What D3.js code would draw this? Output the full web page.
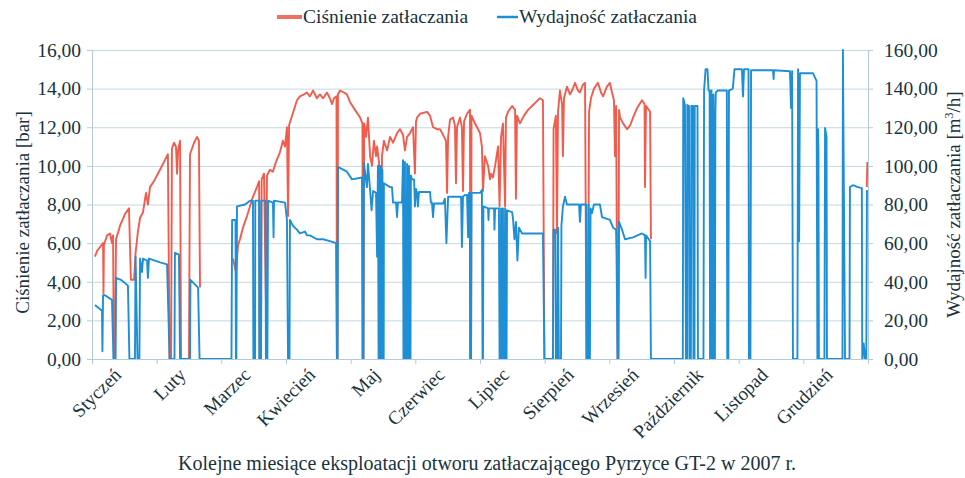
<!DOCTYPE html>
<html>
<head>
<meta charset="utf-8">
<script src="https://cdn.jsdelivr.net/npm/d3@7"></script>
<style>
	body { margin: 0; background: #fff; }
	svg text { font-family: "Liberation Serif", "Times New Roman", serif !important; fill: #183340; }
	.grid line { stroke: #c3d8e2; stroke-width: 1; }
	.axis path, .axis line { stroke: #b3cbd6; }
</style>
</head>
<body>
<script>
// kategorie (miesiące) i podziałki osi
const months = ["Styczeń", "Luty", "Marzec", "Kwiecień", "Maj", "Czerwiec", "Lipiec",
                "Sierpień", "Wrzesień", "Październik", "Listopad", "Grudzień"];
const pressureTicks = [0, 2, 4, 6, 8, 10, 12, 14, 16];
const flowTicks = [0, 20, 40, 60, 80, 100, 120, 140, 160];

// ciśnienie zatłaczania [bar], [dzień roku, wartość]; null = brak danych
const pressure = [
	[1.4,5.3],[2.4,5.6],[3.8,5.8],[5.2,6.0],[5.4,3.4],[5.6,5.9],[7.1,6.4],[8.5,6.5],[9.4,6.0],[9.9,6.4],
	[10.3,0],[10.8,0],[11.3,6.2],[13.2,6.9],[15.5,7.5],[17.4,7.8],[18.3,4.1],[19.8,4.1],[20.5,5.5],[21.6,6.6],
	[22.6,7.3],[24.0,7.6],[25.4,8.6],[26.3,8.0],[27.3,8.9],[29.6,9.3],[32.0,9.8],[34.3,10.3],[35.7,10.6],[36.5,0],
	[37.2,0],[37.6,10.9],[38.6,11.2],[39.5,11.0],[40.0,9.6],[40.5,10.8],[41.4,11.3],[41.9,0],[45.6,0],[46.1,10.6],
	[48.0,11.2],[49.4,11.5],[50.3,11.3],[50.8,3.7],[51.0,null],
	[66.3,5.2],[67.7,4.5],[68.7,5.9],[69.6,6.2],[71.0,6.8],[72.9,7.4],[74.3,7.9],[75.7,8.4],[77.6,8.9],[78.6,9.2],
	[78.8,0],[79.5,0],[79.8,9.3],[80.9,9.6],[81.8,3.0],[82.3,9.5],[83.7,9.8],[85.1,9.7],[86.5,10.2],[88.4,10.7],
	[89.8,11.3],[90.8,11.0],[91.7,12.0],[92.2,7.4],[92.7,12.1],[94.1,12.6],[95.0,12.9],[96.4,13.4],[97.8,13.6],[99.7,13.7],
	[101.1,13.8],[102.5,13.6],[104.0,13.9],[105.8,13.5],[107.2,13.7],[108.7,13.5],[110.5,13.8],[111.9,13.5],[112.9,13.2],[113.8,13.5],
	[115.0,13.6],[115.2,0],[115.5,0],[115.7,13.7],[116.7,13.9],[118.5,13.8],[119.9,13.7],[121.4,13.3],[123.7,12.9],[126.1,12.5],
	[127.2,12.2],[127.5,0],[127.7,0],[128.0,12.2],[128.9,11.5],[129.8,12.5],[130.8,10.5],[131.7,10.0],[132.6,11.3],[133.6,10.5],
	[134.1,11.0],[135.0,10.2],[135.2,0],[135.9,0],[136.4,10.5],[137.3,11.3],[138.8,10.8],[140.2,11.5],[141.6,11.2],[143.5,11.7],
	[144.9,11.9],[146.3,11.6],[147.2,10.8],[148.2,11.5],[149.6,11.7],[151.0,12.0],[151.9,9.6],[152.4,12.3],[152.9,12.5],[154.3,12.7],
	[157.6,12.8],[159.0,12.6],[160.4,12.0],[162.3,11.9],[163.7,11.9],[165.6,11.5],[166.5,11.3],[167.0,8.6],[167.5,11.5],[168.4,12.4],
	[169.8,12.5],[170.7,12.1],[171.2,9.1],[171.7,12.0],[173.1,12.5],[174.0,12.0],[174.5,8.7],[175.0,12.3],[176.4,12.7],[177.8,12.9],
	[177.9,0],[178.3,0],[178.5,12.6],[179.7,12.3],[181.1,12.0],[182.5,11.7],[183.4,11.0],[183.9,8.7],[184.8,10.5],[186.3,10.0],
	[187.2,9.3],[187.7,9.6],[188.6,9.4],[189.6,10.0],[191.0,11.0],[191.7,7.9],[192.4,11.5],[193.3,12.2],[194.3,7.9],[194.7,12.5],
	[195.7,12.8],[197.6,13.1],[199.0,12.9],[199.4,8.3],[199.9,12.6],[201.3,12.2],[203.2,12.6],[205.1,12.9],[207.0,13.1],[208.8,13.3],
	[210.7,13.5],[212.1,13.4],[212.8,0],[216.8,0],[217.1,11.9],[218.2,12.6],[218.7,6.5],[219.2,12.8],[220.1,13.9],[221.1,13.2],
	[221.5,10.5],[222.0,13.5],[223.4,14.1],[224.8,13.7],[225.8,13.9],[227.2,14.3],[228.6,13.9],[229.5,13.8],[230.9,14.2],[231.9,14.3],
	[232.6,0],[233.3,0],[233.8,12.8],[234.7,13.5],[236.1,14.0],[238.0,14.3],[239.4,13.8],[240.4,13.6],[242.2,14.1],[243.6,14.3],
	[244.6,13.8],[245.5,13.4],[246.0,10.5],[246.5,13.1],[247.2,0],[247.6,0],[247.9,12.9],[248.4,12.5],[249.8,12.2],[251.7,11.9],
	[253.1,12.1],[254.5,12.5],[256.4,13.0],[258.7,13.4],[259.9,13.2],[260.1,8.9],[260.6,13.1],[262.5,12.8],[262.9,6.2],[263.0,null],
	[364.4,8.9],[364.7,10.2]
];

// wydajność zatłaczania [m3/h], [dzień roku, wartość]
const flow = [
	[1.4,28],[4.7,25],[4.9,4],[5.2,33],[6.1,33],[9.4,30.6],[10.1,0],[11.1,0],[11.3,42],[13.6,41],
	[16.9,38],[17.6,0],[20.2,0],[20.5,53],[21.4,0],[22.3,0],[22.6,52],[23.5,45],[24.0,52],[25.9,51],
	[26.3,42],[26.8,52],[32.0,50],[35.3,49],[36.5,0],[38.8,0],[39.0,55],[40.9,54],[41.4,0],[46.1,0],
	[46.3,41],[49.9,37],[50.6,0],[65.6,0],[65.9,72],[67.5,72],[67.7,0],[67.9,0],[68.2,79],[72.0,80],
	[74.3,82],[75.7,82],[75.9,0],[76.7,0],[76.8,82],[78.6,82],[78.7,0],[79.5,0],[79.6,82],[81.6,82],
	[81.8,0],[82.5,0],[82.8,82],[85.1,81],[85.4,63],[85.6,82],[90.8,81],[91.7,72],[92.2,0],[92.9,0],
	[93.1,72],[94.5,69],[96.4,67],[97.8,65],[100.2,66],[101.1,64],[102.5,64],[105.8,62],[108.7,62],[111.9,61],
	[114.8,60],[115.2,0],[115.5,0],[115.7,99.5],[119.9,97],[122.3,93],[127.0,94],[127.2,0],[127.7,0],[127.9,101.5],
	[129.3,89],[129.8,101],[130.8,87.5],[131.5,77],[132.2,87],[133.6,86],[134.1,53],[134.5,100],[134.8,0],[135.1,0],
	[135.2,100],[135.5,0],[135.8,0],[135.9,100],[136.1,0],[136.5,0],[136.6,98],[136.9,0],[137.2,0],[137.3,91],
	[140.2,89],[141.1,89],[141.6,81],[143.0,81],[143.5,73.5],[143.9,81],[145.8,81],[146.3,103],[146.5,0],[147.0,0],
	[147.2,102],[147.4,0],[147.9,0],[148.2,101],[148.4,0],[148.9,0],[149.1,100],[149.3,0],[149.8,0],[150.0,95],
	[150.5,93],[151.5,93],[151.9,79],[152.4,88],[152.9,86],[153.3,79],[153.8,86.5],[159.0,86.5],[159.4,81],[159.9,81],
	[160.4,73.5],[160.9,80.5],[165.1,80.5],[166.0,83],[166.7,60],[167.5,84],[173.6,84],[174.0,58],[174.5,84],[175.4,85],
	[176.4,85],[176.9,63],[177.3,86],[177.7,86],[177.9,0],[178.3,0],[178.5,86],[182.5,86],[183.4,87.5],[183.7,0],
	[183.9,0],[184.1,79],[186.3,78],[186.5,72],[186.7,78],[189.1,78],[189.3,67],[189.6,78],[191.4,78],[191.7,0],
	[192.1,0],[192.4,78],[192.6,0],[193.1,0],[193.3,78],[193.5,0],[194.0,0],[194.3,78],[194.5,0],[195.0,0],
	[195.2,77],[197.6,76],[198.0,73],[198.7,62],[199.4,71],[200.1,51],[200.8,68],[202.3,65],[212.1,65],[212.8,0],
	[216.8,0],[217.1,67],[218.0,67],[218.2,0],[218.9,0],[219.2,68],[219.6,0],[220.6,0],[220.8,69],[221.5,79],
	[222.5,84],[223.4,80],[229.1,80],[229.5,71],[230.0,80],[232.4,80],[232.6,0],[233.3,0],[233.5,80],[233.7,0],
	[234.2,0],[234.5,78],[235.2,75.6],[236.1,80],[238.9,80],[239.9,73.5],[243.6,72],[245.1,68],[246.5,67],[246.7,56.5],
	[247.2,0],[247.6,0],[247.9,71],[249.3,67],[250.7,62],[254.5,63],[258.7,65],[260.1,64],[260.4,42],[260.6,64],
	[262.5,61],[262.9,0],[277.9,0],[278.1,135],[278.9,131.5],[279.4,0],[279.9,0],[280.0,131.5],[280.8,131],[281.0,0],
	[281.7,0],[281.9,131],[282.7,131],[282.9,0],[283.4,0],[283.5,131],[284.8,131],[285.0,0],[287.6,0],[287.9,139],
	[288.6,150],[289.5,150],[290.0,139],[290.5,139],[290.7,0],[291.2,0],[291.4,139],[291.6,0],[292.1,0],[292.3,137],
	[292.6,0],[293.0,0],[293.2,127],[293.4,138],[294.4,139],[298.6,139],[298.8,0],[299.3,0],[299.6,139],[301.4,140],
	[302.2,150],[305.7,150],[305.9,144],[306.2,136],[306.7,150],[308.8,150],[309.0,0],[309.7,0],[310.0,149.5],[320.3,149.5],
	[320.6,145],[320.8,149.5],[328.3,149],[328.8,130],[329.3,149],[329.7,0],[331.8,0],[332.1,150],[332.6,61],[333.0,148],
	[339.1,148],[340.8,144],[341.2,0],[341.5,119],[341.7,106],[341.9,0],[344.5,0],[344.8,119.6],[345.5,115],[345.7,0],
	[353.0,0],[353.2,160],[354.2,0],[356.3,0],[356.5,89],[357.9,90],[360.3,89],[362.1,88.5],[362.3,0],[363.0,8],
	[363.5,0],[363.9,5],[364.2,0],[364.5,87.5]
];

const title = "Kolejne miesiące eksploatacji otworu zatłaczającego Pyrzyce GT-2 w 2007 r.";

const W = 965, H = 478;
const margin = {top: 50, right: 97, bottom: 119, left: 92};
const plotW = W - margin.left - margin.right;
const plotH = H - margin.top - margin.bottom;
const serif = "'Liberation Serif', 'Times New Roman', serif";

const svg = d3.select("body").append("svg")
	.attr("width", W)
	.attr("height", H)
	.attr("font-family", serif);

const x = d3.scaleLinear().domain([0, 365]).range([margin.left, margin.left + plotW]);
const yP = d3.scaleLinear().domain([0, 16]).range([margin.top + plotH, margin.top]);
const yQ = d3.scaleLinear().domain([0, 160]).range([margin.top + plotH, margin.top]);

const pl = d3.formatLocale({decimal: ",", thousands: " ", grouping: [3], currency: ["", ""]});
const fmt = pl.format(".2f");

// siatka pozioma
svg.append("g")
	.attr("class", "grid")
	.selectAll("line")
	.data(pressureTicks)
	.join("line")
	.attr("x1", margin.left)
	.attr("x2", margin.left + plotW)
	.attr("y1", d => yP(d) + 0.5)
	.attr("y2", d => yP(d) + 0.5);

// serie
const lineP = d3.line()
	.defined(d => d[1] != null)
	.x(d => x(d[0]))
	.y(d => yP(d[1]));

const lineQ = d3.line()
	.x(d => x(d[0]))
	.y(d => yQ(d[1]));

svg.append("path")
	.datum(pressure)
	.attr("fill", "none")
	.attr("stroke", "#f04a3a")
	.attr("stroke-opacity", 0.9)
	.attr("stroke-width", 1.9)
	.attr("stroke-linejoin", "round")
	.attr("d", lineP);

svg.append("path")
	.datum(flow)
	.attr("fill", "none")
	.attr("stroke", "#1f8fd5")
	.attr("stroke-width", 1.9)
	.attr("stroke-linejoin", "round")
	.attr("d", lineQ);

// osie
const monthStep = 365 / 12;
const bounds = d3.range(0, 13).map(i => i * monthStep);

svg.append("g")
	.attr("class", "axis")
	.attr("transform", "translate(0," + (margin.top + plotH) + ")")
	.call(d3.axisBottom(x).tickValues(bounds).tickFormat("").tickSize(5).tickSizeOuter(0));

svg.append("g")
	.attr("class", "axis")
	.attr("transform", "translate(" + margin.left + ",0)")
	.call(d3.axisLeft(yP).tickValues(pressureTicks).tickFormat(fmt).tickSize(5).tickSizeOuter(0))
	.call(g => g.selectAll("text").attr("x", -11));

svg.append("g")
	.attr("class", "axis")
	.attr("transform", "translate(" + (margin.left + plotW) + ",0)")
	.call(d3.axisRight(yQ).tickValues(flowTicks).tickFormat(fmt).tickSize(5).tickSizeOuter(0))
	.call(g => g.selectAll("text").attr("x", 16));

svg.selectAll(".axis")
	.attr("font-family", serif)
	.attr("font-size", 19.5);
svg.selectAll(".axis text").attr("fill", "#183340");
svg.selectAll(".axis .domain").attr("stroke", "#b3cbd6");

// etykiety miesięcy
svg.append("g")
	.selectAll("text")
	.data(months)
	.join("text")
	.attr("font-size", 19)
	.attr("text-anchor", "end")
	.attr("transform", (d, i) => "translate(" + (x((i + 0.5) * monthStep) - 2) + "," + (margin.top + plotH + 17) + ") rotate(-45)")
	.text(d => d);

// tytuły osi
svg.append("text")
	.attr("font-size", 19)
	.attr("text-anchor", "middle")
	.attr("transform", "translate(29," + (margin.top + plotH / 2 + 8) + ") rotate(-90)")
	.text("Ciśnienie zatłaczania [bar]");

const rt = svg.append("text")
	.attr("font-size", 19)
	.attr("text-anchor", "middle")
	.attr("transform", "translate(960," + (margin.top + plotH / 2) + ") rotate(-90)");
rt.append("tspan").text("Wydajność zatłaczania [m");
rt.append("tspan").attr("font-size", 12).attr("dy", -7).text("3");
rt.append("tspan").attr("dy", 7).text("/h]");

svg.append("text")
	.attr("font-size", 20)
	.attr("text-anchor", "middle")
	.attr("x", 487)
	.attr("y", 470)
	.text(title);

// legenda
const legend = svg.append("g");
legend.append("line")
	.attr("x1", 277).attr("x2", 302).attr("y1", 17).attr("y2", 17)
	.attr("stroke", "#f07060").attr("stroke-width", 4);
legend.append("text")
	.attr("x", 303).attr("y", 23).attr("font-size", 19.5)
	.text("Ciśnienie zatłaczania");
legend.append("line")
	.attr("x1", 497).attr("x2", 518).attr("y1", 17).attr("y2", 17)
	.attr("stroke", "#1f8fd5").attr("stroke-width", 2.5);
legend.append("text")
	.attr("x", 519).attr("y", 23).attr("font-size", 19.5)
	.text("Wydajność zatłaczania");
</script>
</body>
</html>
